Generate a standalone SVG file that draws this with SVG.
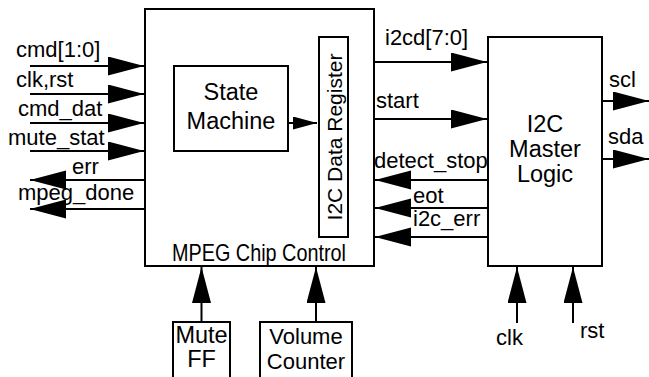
<svg xmlns="http://www.w3.org/2000/svg" width="649" height="377" viewBox="0 0 649 377">
<style>
  .box { fill: #fff; stroke: #000; stroke-width: 2; }
  .wire { stroke: #000; stroke-width: 2; fill: none; }
  .lbl { font-family: "Liberation Sans", Arial, sans-serif; font-size: 22px; fill: #000; }
  .big { font-size: 23.5px; }
  .mid { text-anchor: middle; }
</style>
<defs>
  <marker id="ah" markerUnits="userSpaceOnUse" markerWidth="37" markerHeight="20" refX="36" refY="9.5" orient="auto">
    <path d="M0,0 L36,9.5 L0,19 z" fill="#000"/>
  </marker>
  <marker id="ahs" markerUnits="userSpaceOnUse" markerWidth="25" markerHeight="14" refX="24" refY="6.5" orient="auto">
    <path d="M0,0 L24,6.5 L0,13 z" fill="#000"/>
  </marker>
</defs>

<g id="mpeg-chip-control">
  <rect class="box" x="145" y="9" width="229" height="257"/>
  <text class="lbl" x="172" y="261" style="font-size:24.5px" textLength="174" lengthAdjust="spacingAndGlyphs">MPEG Chip Control</text>
</g>
<g id="state-machine">
  <rect class="box" x="174" y="66" width="114" height="85"/>
  <text class="lbl big mid" x="231" y="100">State</text>
  <text class="lbl big mid" x="231" y="128.5">Machine</text>
</g>
<g id="i2c-data-register">
  <rect class="box" x="319" y="37" width="29" height="200"/>
  <text class="lbl mid" style="font-size:21px" transform="translate(342,137) rotate(-90)">I2C Data Register</text>
</g>
<g id="i2c-master-logic">
  <rect class="box" x="488" y="37" width="114" height="229"/>
  <text class="lbl big mid" x="545" y="132">I2C</text>
  <text class="lbl big mid" x="545" y="157">Master</text>
  <text class="lbl big mid" x="545" y="182">Logic</text>
</g>
<g id="mute-ff">
  <path class="box" d="M173,380 V322 H230 V380"/>
  <text class="lbl big mid" x="201.5" y="343">Mute</text>
  <text class="lbl big mid" x="201.5" y="367">FF</text>
</g>
<g id="volume-counter">
  <path class="box" d="M260,380 V322 H352 V380"/>
  <text class="lbl mid" x="306" y="344">Volume</text>
  <text class="lbl mid" x="306" y="369">Counter</text>
</g>

<g id="connectors">
  <line class="wire" x1="30" y1="66" x2="144" y2="66" marker-end="url(#ah)"/>
  <line class="wire" x1="30" y1="94" x2="144" y2="94" marker-end="url(#ah)"/>
  <line class="wire" x1="30" y1="123" x2="144" y2="123" marker-end="url(#ah)"/>
  <line class="wire" x1="30" y1="151" x2="144" y2="151" marker-end="url(#ah)"/>
  <line class="wire" x1="145" y1="180" x2="30" y2="180" marker-end="url(#ah)"/>
  <line class="wire" x1="145" y1="209" x2="30" y2="209" marker-end="url(#ah)"/>
  <line class="wire" x1="288" y1="123" x2="317" y2="123" marker-end="url(#ahs)"/>
  <line class="wire" x1="374" y1="62" x2="487" y2="62" marker-end="url(#ah)"/>
  <line class="wire" x1="374" y1="119" x2="487" y2="119" marker-end="url(#ah)"/>
  <line class="wire" x1="488" y1="180" x2="375" y2="180" marker-end="url(#ah)"/>
  <line class="wire" x1="488" y1="208" x2="375" y2="208" marker-end="url(#ah)"/>
  <line class="wire" x1="488" y1="237" x2="375" y2="237" marker-end="url(#ah)"/>
  <line class="wire" x1="602" y1="101" x2="649" y2="101" marker-end="url(#ah)"/>
  <line class="wire" x1="602" y1="159" x2="649" y2="159" marker-end="url(#ah)"/>
  <line class="wire" x1="201.5" y1="322" x2="201.5" y2="267" marker-end="url(#ah)"/>
  <line class="wire" x1="316" y1="322" x2="316" y2="267" marker-end="url(#ah)"/>
  <line class="wire" x1="517" y1="323" x2="517" y2="267" marker-end="url(#ah)"/>
  <line class="wire" x1="573" y1="323" x2="573" y2="267" marker-end="url(#ah)"/>
</g>

<g id="labels">
  <text class="lbl" x="16" y="57">cmd[1:0]</text>
  <text class="lbl" x="16" y="87">clk,rst</text>
  <text class="lbl" x="18" y="116">cmd_dat</text>
  <text class="lbl" x="8" y="145">mute_stat</text>
  <text class="lbl" x="72" y="174">err</text>
  <text class="lbl" x="18" y="200">mpeg_done</text>
  <text class="lbl" x="385" y="45">i2cd[7:0]</text>
  <text class="lbl" x="376" y="108">start</text>
  <text class="lbl" x="374" y="168">detect_stop</text>
  <text class="lbl" x="413" y="203">eot</text>
  <text class="lbl" x="413" y="226">i2c_err</text>
  <text class="lbl" x="609" y="87">scl</text>
  <text class="lbl" x="608" y="144">sda</text>
  <text class="lbl" x="496" y="345">clk</text>
  <text class="lbl" x="580" y="338">rst</text>
</g>
</svg>
